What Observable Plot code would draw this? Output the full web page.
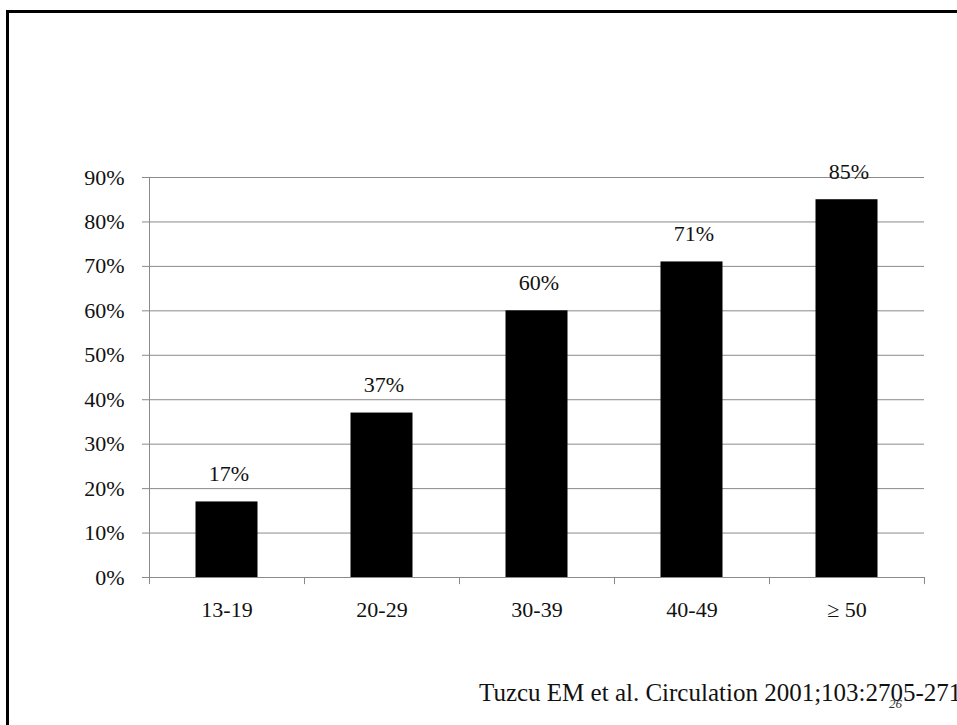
<!DOCTYPE html>
<html>
<head>
<meta charset="utf-8">
<script src="https://cdn.jsdelivr.net/npm/d3@7"></script>
<script src="https://cdn.jsdelivr.net/npm/@observablehq/plot@0.6"></script>
<style>
  html, body { margin: 0; padding: 0; background: #fff; }
  #page { position: relative; width: 957px; height: 725px; overflow: hidden; background: #fff; }
  #frame { position: absolute; left: 6px; top: 10px; width: 1000px; height: 800px;
           border-left: 3px solid #000; border-top: 3px solid #000; box-sizing: border-box; }
  #chart { position: absolute; left: 0; top: 0; }
  #caption { position: absolute; left: 479px; top: 679px; white-space: nowrap;
             font-family: "Liberation Serif", serif; font-size: 25px; color: #111; }
  #slideno { position: absolute; left: 889px; top: 696px; font-family: "Liberation Serif", serif;
             font-size: 13px; font-style: italic; color: #333; }
</style>
</head>
<body>
<div id="page">
  <div id="frame"></div>
  <div id="chart"></div>
  <div id="caption">Tuzcu EM et al. Circulation 2001;103:2705-2710</div>
  <div id="slideno">26</div>
</div>
<script>
const categories = ["13-19", "20-29", "30-39", "40-49", "≥ 50"];
const values = [17, 37, 60, 71, 85];
const yTicks = [0, 10, 20, 30, 40, 50, 60, 70, 80, 90];

const data = categories.map((c, i) => ({category: c, value: values[i]}));

const W = 957, H = 640;
const mL = 149, mR = 33, mT = 177, mB = H - 577;
const bw = (W - mL - mR) / categories.length;
const font = "Liberation Serif, serif";

const chart = Plot.plot({
  width: W,
  height: H,
  marginLeft: mL,
  marginRight: mR,
  marginTop: mT,
  marginBottom: mB,
  style: {fontFamily: font, fontSize: "22px", color: "#111", background: "transparent"},
  x: {domain: categories, padding: 0, label: null},
  y: {domain: [0, 90], ticks: yTicks, label: null},
  marks: [
    Plot.ruleY(yTicks, {stroke: "#8a8a8a", strokeWidth: 1}),
    Plot.axisY({ticks: yTicks, tickSize: 7, tickPadding: 18, stroke: "#8a8a8a",
                tickFormat: d => d + "%", fontSize: 22, label: null, fill: "#111"}),
    Plot.axisX({tickSize: 0, tickPadding: 24, fontSize: 22, label: null, fill: "#111"}),
    // left axis line
    Plot.ruleX([categories[0]], {x: d => d, y1: 0, y2: 90, dx: -bw / 2, stroke: "#8a8a8a"}),
    // boundary ticks below x axis
    Plot.ruleX(categories, {x: d => d, y1: 0, y2: -1.6, dx: -bw / 2, stroke: "#8a8a8a"}),
    Plot.ruleX([categories[categories.length - 1]], {x: d => d, y1: 0, y2: -1.6, dx: bw / 2, stroke: "#8a8a8a"}),
    Plot.barY(data, {x: "category", y: "value", fill: "#000",
                     insetLeft: bw * 0.3, insetRight: bw * 0.3}),
    Plot.text(data, {x: "category", y: "value", text: d => d.value + "%", dy: -28,
                     fontSize: 22, fill: "#111", dx: 2})
  ]
});
document.getElementById("chart").appendChild(chart);
</script>
</body>
</html>
